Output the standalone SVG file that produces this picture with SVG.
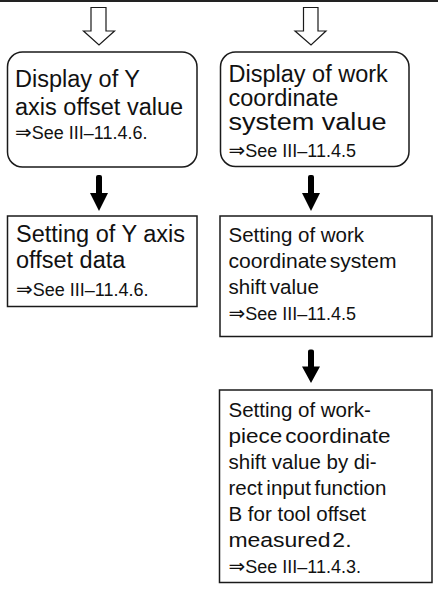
<svg xmlns="http://www.w3.org/2000/svg" width="438" height="596" viewBox="0 0 438 596">
<style>
.box{fill:#fff;stroke:#1a1a1a;stroke-width:1.5}
.hol{fill:#fff;stroke:#1a1a1a;stroke-width:1.2;stroke-linejoin:miter}
.sol{fill:#000;stroke:none}
text{font-family:"Liberation Sans",Arial,"DejaVu Sans",sans-serif;fill:#111}
.big{font-size:23.5px}
.mid{font-size:20.5px}
.see{font-size:18px}
.arr{font-family:"DejaVu Sans",sans-serif;font-size:20px}
</style>
<rect x="0" y="0" width="438" height="2" fill="#222"/>
<g id="connectors">
<path class="hol" d="M91,7.5 H106 V31 H114.5 L99,45 L83.5,31 H91 Z"/>
<path class="hol" d="M303.5,7.5 H318 V31 H326 L311,45 L295,31 H303.5 Z"/>
<path class="sol" d="M96,177 Q96,175 98,175 H100 Q102,175 102,177 V193 H108 L99,211 L90,193 H96 Z"/>
<path class="sol" d="M308,177 Q308,175 310,175 H312 Q314,175 314,177 V193 H320 L311,211 L302,193 H308 Z"/>
<path class="sol" d="M308,351.5 Q308,349.5 310,349.5 H312 Q314,349.5 314,351.5 V366.5 H320 L311,383 L302,366.5 H308 Z"/>
</g>
<g id="n1">
<rect class="box" x="7.5" y="52" width="189.5" height="115" rx="15" ry="15"/>
<text class="big" x="15" y="87">Display of Y</text>
<text class="big" x="15" y="114.5">axis offset value</text>
<text class="see" x="15" y="139"><tspan class="arr">⇒</tspan>See III–11.4.6.</text>
</g>
<g id="n2">
<rect class="box" x="7.5" y="216" width="189.5" height="90.5"/>
<text class="big" x="16" y="241.5">Setting of Y axis</text>
<text class="big" x="16" y="268">offset data</text>
<text class="see" x="16" y="296"><tspan class="arr">⇒</tspan>See III–11.4.6.</text>
</g>
<g id="n3">
<rect class="box" x="220.5" y="52" width="188.5" height="114.5" rx="15" ry="15"/>
<text class="big" x="228.5" y="81.5">Display of work</text>
<text class="big" x="228.5" y="105.5">coordinate</text>
<text class="big" x="228.5" y="129.5" textLength="158" lengthAdjust="spacingAndGlyphs">system value</text>
<text class="see" x="228.5" y="157"><tspan class="arr">⇒</tspan>See III–11.4.5</text>
</g>
<g id="n4">
<rect class="box" x="220" y="216" width="212" height="120.5"/>
<text class="mid" x="228.5" y="241.5">Setting of work</text>
<text class="mid" x="228.5" y="267.5" word-spacing="-3" textLength="168" lengthAdjust="spacingAndGlyphs">coordinate system</text>
<text class="mid" x="228.5" y="294" word-spacing="-2">shift value</text>
<text class="see" x="228.5" y="320"><tspan class="arr">⇒</tspan>See III–11.4.5</text>
</g>
<g id="n5">
<rect class="box" x="219.5" y="390" width="212.5" height="192.5"/>
<text class="mid" x="228.5" y="416.5">Setting of work-</text>
<text class="mid" x="228.5" y="442.5" word-spacing="-3" textLength="162" lengthAdjust="spacingAndGlyphs">piece coordinate</text>
<text class="mid" x="228.5" y="469">shift value by di-</text>
<text class="mid" x="228.5" y="494.5" word-spacing="-2">rect input function</text>
<text class="mid" x="228.5" y="520.5">B for tool offset</text>
<text class="mid" x="228.5" y="546.5" word-spacing="-4" textLength="123" lengthAdjust="spacingAndGlyphs">measured 2.</text>
<text class="see" x="228.5" y="572.5"><tspan class="arr">⇒</tspan>See III–11.4.3.</text>
</g>
</svg>
